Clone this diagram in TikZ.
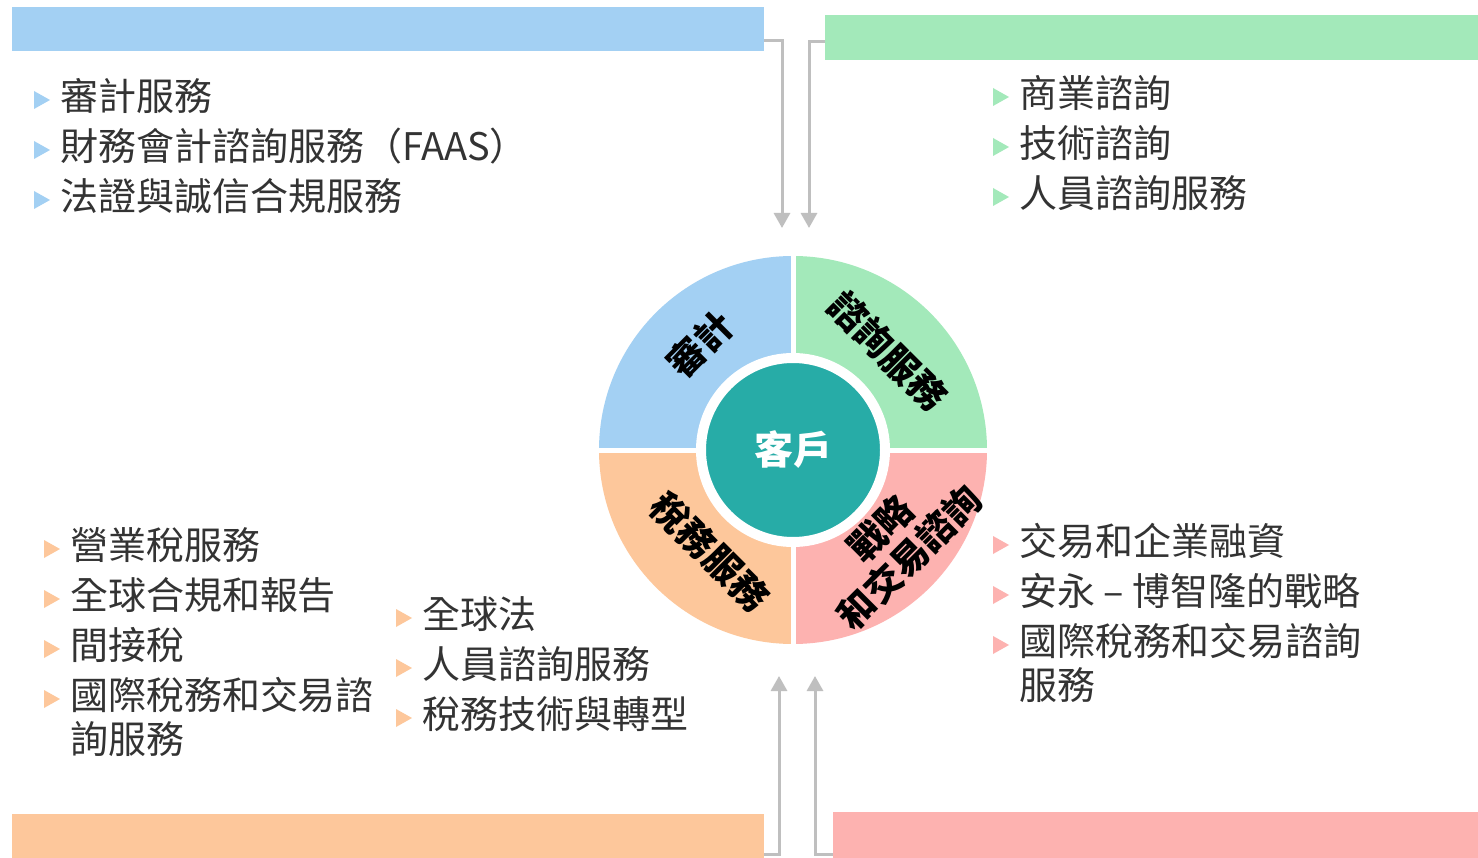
\documentclass[tikz,border=0pt]{standalone}
\usepackage{fontspec}
\setmainfont{Noto Sans CJK TC}
\usetikzlibrary{arrows.meta}
\definecolor{blueq}{HTML}{A3D0F3}
\definecolor{greenq}{HTML}{A3E9BA}
\definecolor{pinkq}{HTML}{FDB2B0}
\definecolor{orangeq}{HTML}{FDC79B}
\definecolor{tealc}{HTML}{27ACA7}
\definecolor{conngray}{HTML}{BFBFBF}
\definecolor{txt}{HTML}{333333}
\newcommand\bulitem[5]{%
  \fill[#2] (#3-26,#4-6) -- (#3-10,#4+3) -- (#3-26,#4+12) -- cycle;
  \node[item, anchor=west] (#1) at (#3,#4+10) {#5};
}
\begin{document}
\begin{tikzpicture}[x=1pt,y=-1pt,
  bar/.style={rectangle, anchor=north west, inner sep=0pt, outer sep=0pt},
  conn/.style={draw=conngray, line width=3pt, -{Triangle[width=16pt,length=15pt]}},
  item/.style={inner sep=0pt, outer sep=0pt, text=txt, font=\fontsize{38}{42}\selectfont, text height=0.76em, text depth=0em},
  qlabel/.style={inner sep=0pt, font=\bfseries\fontsize{37}{41}\selectfont, text=black},
]
\useasboundingbox (0,0) rectangle (1478,858);
\fill[white] (0,0) rectangle (1478,858);

% bars
\node[bar, fill=blueq, minimum width=752pt, minimum height=44pt] (tl) at (12,7) {};
\node[bar, fill=greenq, minimum width=653pt, minimum height=45pt] (tr) at (825,15) {};
\node[bar, fill=orangeq, minimum width=752pt, minimum height=44pt] (bl) at (12,814) {};
\node[bar, fill=pinkq, minimum width=645pt, minimum height=46pt] (br) at (833,812) {};

% connector tips
\coordinate (tipTL) at (782,228);
\coordinate (tipTR) at (809,228);
\coordinate (tipBL) at (779,676);
\coordinate (tipBR) at (815,676);
\draw[conn] ([yshift=-12pt]tl.east) -| (tipTL);
\draw[conn] ([yshift=-4pt]tr.west) -| (tipTR);
\draw[conn] ([yshift=-18pt]bl.east) -| (tipBL);
\draw[conn] ([yshift=-19pt]br.west) -| (tipBR);

% wheel
\coordinate (c) at (793,450);
\begin{scope}
  \clip (c) circle (194);
  \fill[blueq] (c) rectangle ++(-200,-200);
  \fill[greenq] (c) rectangle ++(200,-200);
  \fill[orangeq] (c) rectangle ++(-200,200);
  \fill[pinkq] (c) rectangle ++(200,200);
\end{scope}
\draw[white, line width=5pt] ([xshift=-200pt]c) -- ([xshift=200pt]c);
\draw[white, line width=5pt] ([yshift=-200pt]c) -- ([yshift=200pt]c);
\node[circle, fill=tealc, draw=white, line width=10pt, minimum size=184pt, inner sep=0pt,
  text=white, font=\bfseries\fontsize{39}{42}\selectfont] (client) at (c) {客戶};

\node[qlabel, rotate=45] (lab1) at (700,344) {審計};
\node[qlabel, rotate=-45] (lab2) at (888,351) {諮詢服務};
\node[qlabel, rotate=-45] (lab3) at (710,552) {稅務服務};
\node[qlabel, rotate=45, align=center] (lab4) at (895,543) {戰略\\和交易諮詢};

% top-left list
\bulitem{a1}{blueq}{60}{97}{審計服務}
\bulitem{a2}{blueq}{60}{147}{財務會計諮詢服務（FAAS）}
\bulitem{a3}{blueq}{60}{197}{法證與誠信合規服務}

% top-right list
\bulitem{b1}{greenq}{1019}{94}{商業諮詢}
\bulitem{b2}{greenq}{1019}{144}{技術諮詢}
\bulitem{b3}{greenq}{1019}{194}{人員諮詢服務}

% bottom-left lists
\bulitem{c1}{orangeq}{70}{546}{營業稅服務}
\bulitem{c2}{orangeq}{70}{596}{全球合規和報告}
\bulitem{c3}{orangeq}{70}{646}{間接稅}
\bulitem{c4}{orangeq}{70}{696}{國際稅務和交易諮}
\node[item, anchor=west] (c5) at (70,750) {詢服務};
\bulitem{d1}{orangeq}{422}{615}{全球法}
\bulitem{d2}{orangeq}{422}{665}{人員諮詢服務}
\bulitem{d3}{orangeq}{422}{715}{稅務技術與轉型}

% bottom-right list
\bulitem{e1}{pinkq}{1019}{542}{交易和企業融資}
\bulitem{e2}{pinkq}{1019}{592}{安永 – 博智隆的戰略}
\bulitem{e3}{pinkq}{1019}{642}{國際稅務和交易諮詢}
\node[item, anchor=west] (e4) at (1019,696) {服務};
\end{tikzpicture}
\end{document}
